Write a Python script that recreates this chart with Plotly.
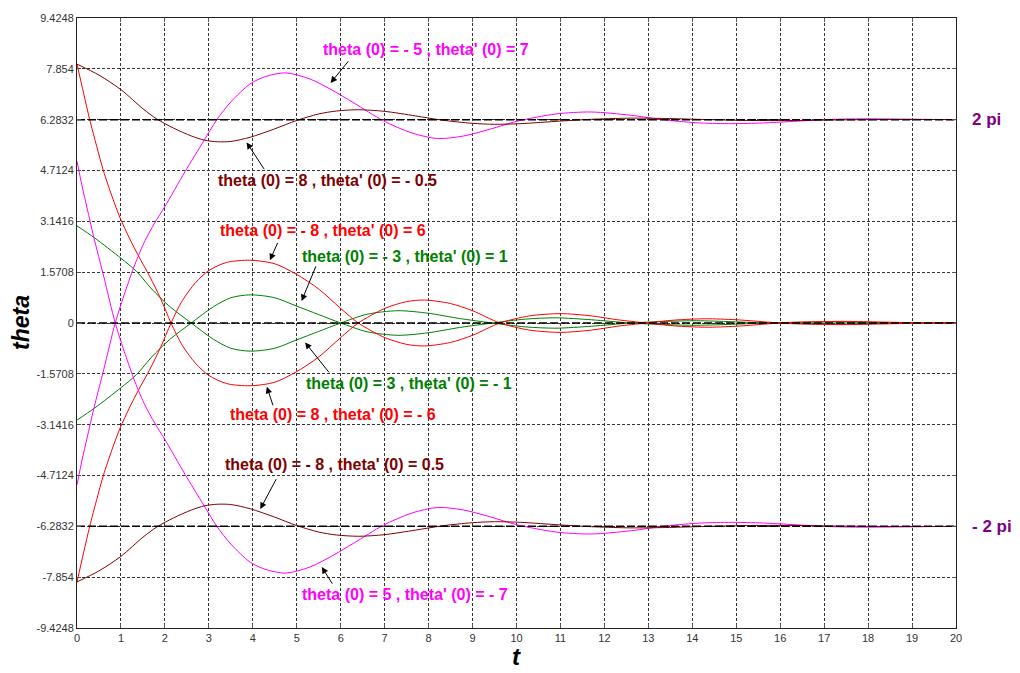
import plotly.graph_objects as go

# ---------------- data ----------------
t_brown = [0, 0.5, 1.0, 1.5, 1.82, 2.2, 2.6, 2.9, 3.2, 3.5, 3.94, 4.5, 5.0, 5.5, 5.9, 6.4, 7.0,
           7.7, 8.3, 9.0, 9.5, 10.1, 11.0, 11.8, 12.6, 13.4, 14.2, 15.2, 16.1, 17.0, 18.0, 19.0, 20.0]
brown_a = [8.0, 7.66, 7.21, 6.62, 6.30, 6.02, 5.78, 5.65, 5.60, 5.61, 5.74, 6.00, 6.26, 6.46, 6.55, 6.59, 6.54,
           6.40, 6.27, 6.17, 6.14, 6.16, 6.24, 6.30, 6.33, 6.32, 6.29, 6.26, 6.255, 6.27, 6.285, 6.29, 6.285]
brown_b = [-8.0, -7.66, -7.21, -6.62, -6.30, -6.02, -5.78, -5.65, -5.60, -5.61, -5.74, -6.00, -6.26, -6.46, -6.55, -6.59, -6.54,
           -6.40, -6.27, -6.17, -6.14, -6.16, -6.24, -6.30, -6.33, -6.32, -6.29, -6.26, -6.255, -6.27, -6.285, -6.29, -6.285]

t_mag = [0, 0.12, 0.23, 0.38, 0.61, 0.87, 1.1, 1.32, 1.55, 1.78, 2.0, 2.46, 2.88, 3.18, 3.5, 3.94, 4.3, 4.75,
         5.3, 5.8, 6.3, 6.97, 7.6, 8.2, 8.8, 9.4, 10.0, 10.9, 11.7, 12.6, 13.4, 14.2, 14.9, 15.6, 16.3, 17.1,
         17.9, 18.8, 19.5, 20.0]
mag_a = [-5.0, -4.2, -3.55, -2.66, -1.43, 0.0, 0.98, 1.82, 2.55, 3.12, 3.6, 4.68, 5.62, 6.28, 6.83, 7.39, 7.62, 7.73,
         7.54, 7.2, 6.8, 6.25, 5.88, 5.70, 5.78, 5.99, 6.23, 6.46, 6.52, 6.42, 6.27, 6.18, 6.16, 6.18, 6.23, 6.29,
         6.31, 6.30, 6.29, 6.285]
mag_b = [5.0, 4.2, 3.55, 2.66, 1.43, 0.0, -0.98, -1.82, -2.55, -3.12, -3.6, -4.68, -5.62, -6.28, -6.83, -7.39, -7.62, -7.73,
         -7.54, -7.2, -6.8, -6.25, -5.88, -5.70, -5.78, -5.99, -6.23, -6.46, -6.52, -6.42, -6.27, -6.18, -6.16, -6.18, -6.23, -6.29,
         -6.31, -6.30, -6.29, -6.285]

t_red = [0, 0.15, 0.29, 0.45, 0.6, 0.8, 0.98, 1.2, 1.4, 1.65, 1.9, 2.14, 2.4, 2.7, 3.0, 3.4, 3.94, 4.5, 5.0,
         5.5, 6.0, 6.4, 7.0, 7.5, 7.9, 8.5, 9.0, 9.62, 10.3, 11.0, 11.7, 12.3, 12.95, 13.6, 14.3, 15.0, 16.0,
         16.8, 17.5, 18.3, 19.3, 20.0]
red_a = [-8.0, -7.1, -6.28, -5.45, -4.71, -3.9, -3.25, -2.6, -2.07, -1.45, -0.76, 0.0, 0.7, 1.25, 1.62, 1.87, 1.94, 1.83, 1.5,
         1.05, 0.45, 0.0, -0.45, -0.66, -0.71, -0.6, -0.38, 0.0, 0.22, 0.29, 0.22, 0.1, 0.0, -0.09, -0.13, -0.1, 0.0,
         0.04, 0.05, 0.03, 0.0, -0.01]
red_b = [8.0, 7.1, 6.28, 5.45, 4.71, 3.9, 3.25, 2.6, 2.07, 1.45, 0.76, 0.0, -0.7, -1.25, -1.62, -1.87, -1.94, -1.83, -1.5,
         -1.05, -0.45, 0.0, 0.45, 0.66, 0.71, 0.6, 0.38, 0.0, -0.22, -0.29, -0.22, -0.1, 0.0, 0.09, 0.13, 0.1, 0.0,
         -0.04, -0.05, -0.03, 0.0, 0.01]

t_green = [0, 0.4, 1.0, 1.35, 1.7, 2.1, 2.6, 3.1, 3.5, 3.94, 4.5, 5.0, 5.5, 6.0, 6.6, 7.3, 8.0, 8.7, 9.45,
           10.2, 10.9, 11.7, 12.6, 13.4, 14.1, 14.9, 15.7, 16.5, 17.3, 18.2, 19.0, 20.0]
green_a = [-3.0, -2.63, -2.0, -1.6, -1.05, -0.52, 0.0, 0.5, 0.78, 0.87, 0.78, 0.52, 0.26, 0.0, -0.27, -0.38, -0.3, -0.14, 0.0,
           0.12, 0.16, 0.1, 0.0, -0.05, -0.07, -0.04, 0.0, 0.025, 0.03, 0.015, 0.0, -0.01]
green_b = [3.0, 2.63, 2.0, 1.6, 1.05, 0.52, 0.0, -0.5, -0.78, -0.87, -0.78, -0.52, -0.26, 0.0, 0.27, 0.38, 0.3, 0.14, 0.0,
           -0.12, -0.16, -0.1, 0.0, 0.05, 0.07, 0.04, 0.0, -0.025, -0.03, -0.015, 0.0, 0.01]

equilibria = [6.2832, 0.0, -6.2832]
x_ticks = list(range(0, 21))
y_ticks = [-9.4248, -7.854, -6.2832, -4.7124, -3.1416, -1.5708, 0, 1.5708, 3.1416, 4.7124, 6.2832, 7.854, 9.4248]
y_tick_labels = ["-9.4248", "-7.854", "-6.2832", "-4.7124", "-3.1416", "-1.5708", "0",
                 "1.5708", "3.1416", "4.7124", "6.2832", "7.854", "9.4248"]

# label: text, colour, text position (t, theta), arrow tail, arrow tip
labels = [
    ("theta (0) = - 5 , theta' (0) = 7", "#FF00FF", (7.95, 8.44), (6.2, 8.13), (5.77, 7.42)),
    ("theta (0) = 8 , theta' (0) = - 0.5", "#800000", (5.71, 4.40), (4.28, 4.71), (3.86, 5.58)),
    ("theta (0) = - 8 , theta' (0) = 6", "#FF0000", (5.60, 2.87), (4.58, 2.52), (4.39, 1.94)),
    ("theta (0) = - 3 , theta' (0) = 1", "#008000", (7.46, 2.06), (5.45, 1.80), (5.11, 0.68)),
    ("theta (0) = 3 , theta' (0) = - 1", "#008000", (7.55, -1.87), (5.76, -1.57), (5.19, -0.60)),
    ("theta (0) = 8 , theta' (0) = - 6", "#FF0000", (5.83, -2.84), (4.47, -2.59), (4.32, -1.97)),
    ("theta (0) = - 8 , theta' (0) = 0.5", "#800000", (5.87, -4.37), (4.55, -4.78), (4.17, -5.75)),
    ("theta (0) = 5 , theta' (0) = - 7", "#FF00FF", (7.46, -8.40), (5.83, -8.10), (5.57, -7.54)),
]

FONT = "Liberation Sans, Arial, sans-serif"

fig = go.Figure()

curves = [
    (t_green, green_a, "#008000"), (t_green, green_b, "#008000"),
    (t_red, red_a, "#FF0000"), (t_red, red_b, "#FF0000"),
    (t_mag, mag_a, "#FF00FF"), (t_mag, mag_b, "#FF00FF"),
    (t_brown, brown_a, "#800000"), (t_brown, brown_b, "#800000"),
]
for tt, yy, col in curves:
    fig.add_trace(go.Scatter(x=tt, y=yy, mode="lines",
                             line=dict(color=col, width=1, shape="spline", smoothing=0.8),
                             showlegend=False, hoverinfo="skip"))

for e in equilibria:
    fig.add_trace(go.Scatter(x=[x_ticks[0], x_ticks[-1]], y=[e, e], mode="lines",
                             line=dict(color="black", width=1.5, dash="8px,3px"),
                             showlegend=False, hoverinfo="skip"))

annotations = []
for text, col, (tx, ty), (ax, ay), (hx, hy) in labels:
    annotations.append(dict(x=hx, y=hy, ax=ax, ay=ay, xref="x", yref="y", axref="x", ayref="y",
                            text="", showarrow=True, arrowhead=2, arrowsize=1.3, arrowwidth=1,
                            arrowcolor="black", standoff=0, startstandoff=0))
    annotations.append(dict(x=tx, y=ty, xref="x", yref="y", text="<b>%s</b>" % text, showarrow=False,
                            font=dict(family=FONT, size=16, color=col), xanchor="center", yanchor="middle"))

annotations.append(dict(x=1, y=equilibria[0], xref="paper", yref="y", xshift=30, text="<b>2 pi</b>",
                        showarrow=False, xanchor="center", yanchor="middle",
                        font=dict(family=FONT, size=17, color="#800080")))
annotations.append(dict(x=1, y=equilibria[2], xref="paper", yref="y", xshift=36, text="<b>- 2 pi</b>",
                        showarrow=False, xanchor="center", yanchor="middle",
                        font=dict(family=FONT, size=17, color="#800080")))
annotations.append(dict(x=0, y=0.5, xref="paper", yref="paper", xshift=-56, text="<b><i>theta</i></b>",
                        textangle=-90, showarrow=False, font=dict(family=FONT, size=23, color="black"),
                        xanchor="center", yanchor="middle"))
annotations.append(dict(x=0.5, y=0, xref="paper", yref="paper", yshift=-28, text="<b><i>t</i></b>",
                        showarrow=False, font=dict(family=FONT, size=24, color="black"),
                        xanchor="center", yanchor="middle"))

axis_common = dict(showline=True, linecolor="#222", linewidth=1, mirror="allticks",
                   ticks="inside", ticklen=4, tickcolor="#555", tickwidth=1,
                   showgrid=True, gridcolor="#333", gridwidth=1, griddash="3px,2px",
                   zeroline=False, tickfont=dict(family=FONT, size=11, color="#333"))

fig.update_layout(
    width=1020, height=673,
    margin=dict(l=77, r=64, t=13, b=45),
    paper_bgcolor="white", plot_bgcolor="white",
    xaxis=dict(range=[x_ticks[0], x_ticks[-1]], tickvals=x_ticks, **axis_common),
    yaxis=dict(range=[y_ticks[0], y_ticks[-1]], tickvals=y_ticks, ticktext=y_tick_labels, **axis_common),
    annotations=annotations,
)

fig.write_html("out.html")
